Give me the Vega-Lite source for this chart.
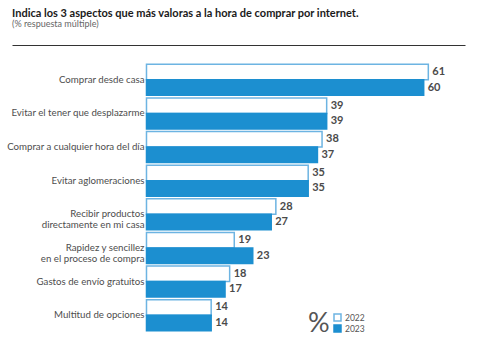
{
  "$schema": "https://vega.github.io/schema/vega-lite/v6.json",
  "autosize": {"type": "none"},
  "padding": {"left": 12, "top": 62, "right": 16, "bottom": 20},
  "width": 453,
  "height": 271,
  "background": "white",
  "title": {
    "text": "Indica los 3 aspectos que más valoras a la hora de comprar por internet.",
    "subtitle": "(% respuesta múltiple)",
    "anchor": "start",
    "frame": "group",
    "font": "Lato",
    "fontSize": 11,
    "fontWeight": "bold",
    "color": "#1a1a1a",
    "subtitleFont": "Lato",
    "subtitleFontSize": 9,
    "subtitleColor": "#666666",
    "subtitlePadding": 1,
    "offset": 16
  },
  "data": {
    "values": [
      {"aspecto": "Comprar desde casa", "year": "2022", "pct": 61},
      {"aspecto": "Comprar desde casa", "year": "2023", "pct": 60},
      {"aspecto": "Evitar el tener que desplazarme", "year": "2022", "pct": 39},
      {"aspecto": "Evitar el tener que desplazarme", "year": "2023", "pct": 39},
      {"aspecto": "Comprar a cualquier hora del día", "year": "2022", "pct": 38},
      {"aspecto": "Comprar a cualquier hora del día", "year": "2023", "pct": 37},
      {"aspecto": "Evitar aglomeraciones", "year": "2022", "pct": 35},
      {"aspecto": "Evitar aglomeraciones", "year": "2023", "pct": 35},
      {"aspecto": "Recibir productos\ndirectamente en mi casa", "year": "2022", "pct": 28},
      {"aspecto": "Recibir productos\ndirectamente en mi casa", "year": "2023", "pct": 27},
      {"aspecto": "Rapidez y sencillez\nen el proceso de compra", "year": "2022", "pct": 19},
      {"aspecto": "Rapidez y sencillez\nen el proceso de compra", "year": "2023", "pct": 23},
      {"aspecto": "Gastos de envío gratuitos", "year": "2022", "pct": 18},
      {"aspecto": "Gastos de envío gratuitos", "year": "2023", "pct": 17},
      {"aspecto": "Multitud de opciones", "year": "2022", "pct": 14},
      {"aspecto": "Multitud de opciones", "year": "2023", "pct": 14}
    ]
  },
  "encoding": {
    "y": {
      "field": "aspecto",
      "type": "nominal",
      "sort": null,
      "scale": {"paddingInner": 0.078, "paddingOuter": 0.068},
      "axis": {
        "title": null,
        "orient": "left",
        "domain": false,
        "ticks": false,
        "tickSize": 0,
        "labelPadding": -132,
        "labelAlign": "right",
        "labelFont": "Lato",
        "labelFontSize": 9.7,
        "labelColor": "#4d4d4d",
        "labelLineHeight": 11,
        "labelExpr": "split(datum.value, '\\n')",
        "labelLimit": 200
      }
    },
    "yOffset": {"field": "year", "type": "nominal", "scale": {"paddingInner": 0, "paddingOuter": 0}},
    "x": {
      "field": "pct",
      "type": "quantitative",
      "scale": {"domain": [-29.11, 68.94], "nice": false, "zero": false},
      "axis": {
        "orient": "top",
        "title": null,
        "labels": false,
        "ticks": false,
        "grid": false,
        "domain": true,
        "domainColor": "#333333",
        "domainWidth": 1.2,
        "offset": 17
      }
    }
  },
  "layer": [
    {
      "mark": {"type": "bar", "strokeWidth": 1.5, "cornerRadius": 0},
      "encoding": {
        "x": {"field": "pct", "type": "quantitative", "scale": {"domain": [-29.11, 68.94], "nice": false, "zero": false}},
        "x2": {"datum": 0},
        "fill": {
          "field": "year",
          "type": "nominal",
          "scale": {"domain": ["2022", "2023"], "range": ["#ffffff", "#1c8fd0"]},
          "legend": {
            "title": "%",
            "orient": "none",
            "legendX": 296,
            "legendY": 251,
            "direction": "vertical",
            "titleOrient": "left",
            "titleAnchor": "middle",
            "titleFont": "Lato",
            "titleFontSize": 27,
            "titleFontWeight": "normal",
            "titleColor": "#555555",
            "titlePadding": 3,
            "titleBaseline": "middle",
            "symbolType": "square",
            "symbolSize": 49,
            "symbolStrokeWidth": 1.5,
            "labelFont": "Lato",
            "labelFontSize": 8.5,
            "labelColor": "#555555",
            "labelOffset": 3,
            "rowPadding": -4
          }
        },
        "stroke": {
          "field": "year",
          "type": "nominal",
          "scale": {"domain": ["2022", "2023"], "range": ["#6db4e2", "#1c8fd0"]},
          "legend": null
        }
      }
    },
    {
      "mark": {"type": "text", "align": "left", "baseline": "middle", "dx": 4, "font": "Lato", "fontSize": 11, "fontWeight": "bold", "color": "#4a4a4a"},
      "encoding": {
        "text": {"field": "pct", "type": "quantitative"}
      }
    }
  ],
  "config": {"view": {"stroke": null}}
}
